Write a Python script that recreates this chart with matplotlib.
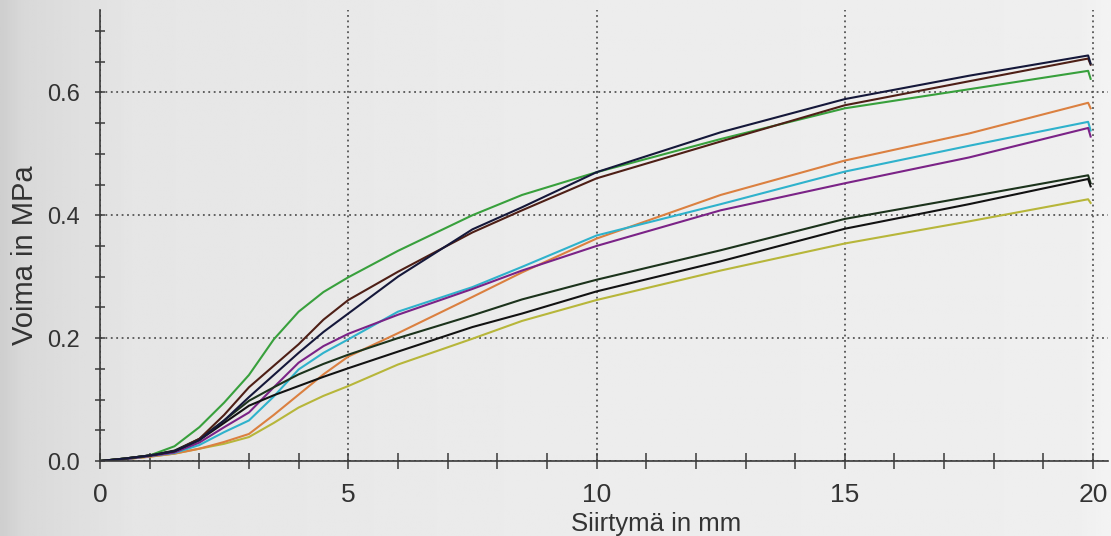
import numpy as np
import matplotlib
matplotlib.use("Agg")
import matplotlib.pyplot as plt
from matplotlib.ticker import MultipleLocator, FixedLocator

# ---- data ----
x_mm = [0, 0.5, 1, 1.5, 2, 2.5, 3, 3.5, 4, 4.5, 5, 6, 7.5, 8.5, 10, 12.5, 15, 17.5, 19.9]

green   = [0, 0.004, 0.009, 0.024, 0.055, 0.095, 0.140, 0.198, 0.243, 0.275, 0.299, 0.342, 0.400, 0.433, 0.470, 0.524, 0.574, 0.605, 0.635]
brown   = [0, 0.004, 0.009, 0.016, 0.036, 0.075, 0.120, 0.155, 0.190, 0.230, 0.262, 0.308, 0.372, 0.408, 0.460, 0.520, 0.579, 0.618, 0.655]
navy    = [0, 0.004, 0.009, 0.016, 0.034, 0.066, 0.104, 0.140, 0.176, 0.210, 0.240, 0.300, 0.377, 0.413, 0.470, 0.535, 0.589, 0.627, 0.660]
orange  = [0, 0.003, 0.007, 0.012, 0.020, 0.031, 0.044, 0.075, 0.108, 0.141, 0.170, 0.208, 0.267, 0.307, 0.362, 0.433, 0.489, 0.533, 0.583]
cyan    = [0, 0.003, 0.008, 0.013, 0.026, 0.047, 0.066, 0.105, 0.149, 0.176, 0.198, 0.243, 0.283, 0.316, 0.367, 0.418, 0.471, 0.513, 0.552]
purple  = [0, 0.003, 0.008, 0.014, 0.030, 0.055, 0.079, 0.120, 0.160, 0.187, 0.207, 0.238, 0.280, 0.310, 0.350, 0.408, 0.452, 0.494, 0.542]
dkgreen = [0, 0.004, 0.009, 0.017, 0.036, 0.066, 0.098, 0.120, 0.141, 0.158, 0.173, 0.200, 0.237, 0.263, 0.295, 0.343, 0.394, 0.430, 0.465]
black   = [0, 0.004, 0.009, 0.016, 0.034, 0.062, 0.090, 0.107, 0.122, 0.137, 0.151, 0.178, 0.218, 0.240, 0.276, 0.325, 0.378, 0.418, 0.459]
yellow  = [0, 0.003, 0.007, 0.012, 0.020, 0.028, 0.039, 0.062, 0.087, 0.106, 0.122, 0.157, 0.199, 0.228, 0.262, 0.310, 0.354, 0.390, 0.426]

# final unloading point at the end of each test
x_end = 19.95
end_values = {
    "yellow": 0.420, "orange": 0.574, "cyan": 0.538, "purple": 0.528,
    "dkgreen": 0.452, "black": 0.447, "green": 0.622, "brown": 0.645, "navy": 0.647,
}

series = [
    ("yellow", yellow, "#b7b63a"),
    ("orange", orange, "#db8040"),
    ("cyan", cyan, "#2fb2cc"),
    ("purple", purple, "#7b2387"),
    ("dkgreen", dkgreen, "#1c331c"),
    ("black", black, "#121212"),
    ("green", green, "#38a03c"),
    ("brown", brown, "#4e1f16"),
    ("navy", navy, "#15183a"),
]

x_major = [0, 5, 10, 15, 20]
y_major = [0.0, 0.2, 0.4, 0.6]
y_labels = ["0.0", "0.2", "0.4", "0.6"]

# ---- figure ----
W, H = 1111, 536
fig = plt.figure(figsize=(W / 100, H / 100), dpi=100)
plt.rcParams["font.family"] = ["Liberation Sans", "DejaVu Sans"]

# photographic light-grey background with darker left edge
bg = fig.add_axes([0, 0, 1, 1], zorder=-10)
grad = np.interp(np.linspace(0, 1, 400), [0, 0.02, 0.12, 0.5, 0.97, 1.0],
                 [0.81, 0.85, 0.90, 0.925, 0.935, 0.955])
bg.imshow(np.tile(grad, (10, 1)), cmap="gray", vmin=0, vmax=1, aspect="auto",
          extent=[0, 1, 0, 1])
bg.axis("off")

left_px, right_px, top_px, bot_px = 100, 1108, 10, 461
ax = fig.add_axes([left_px / W, 1 - bot_px / H, (right_px - left_px) / W, (bot_px - top_px) / H])
ax.patch.set_alpha(0)

for name, vals, col in series:
    xs = list(x_mm) + [x_end]
    ys = list(vals) + [end_values[name]]
    ax.plot(xs, ys, color=col, lw=1.5, solid_joinstyle="round")

ax.set_xlim(0, 20.3)
ax.set_ylim(0, 0.734)

for s in ["top", "right"]:
    ax.spines[s].set_visible(False)
for s in ["left", "bottom"]:
    ax.spines[s].set_color("#3a3a3a")
    ax.spines[s].set_linewidth(1.2)

ax.xaxis.set_major_locator(FixedLocator(x_major))
ax.xaxis.set_minor_locator(MultipleLocator(1))
ax.yaxis.set_major_locator(FixedLocator(y_major))
ax.yaxis.set_minor_locator(MultipleLocator(0.05))
ax.set_yticklabels(y_labels)

ax.tick_params(axis="x", which="both", direction="inout", length=12, width=1.1,
               color="#3a3a3a", labelsize=19, labelcolor="#333333", pad=10)
ax.tick_params(axis="y", which="both", direction="inout", length=7, width=1.1,
               color="#3a3a3a", labelsize=17, labelcolor="#333333", pad=11)

ax.grid(True, which="major", color="#555555", lw=1.3, linestyle=(0, (1, 2)))
ax.set_axisbelow(True)

ax.set_xlabel("Siirtymä in mm", fontsize=18.5, color="#333333")
ax.xaxis.set_label_coords(0.552, -0.112)
ax.set_ylabel("Voima in MPa", fontsize=21, color="#333333")
ax.yaxis.set_label_coords(-0.061, 0.456)

fig.savefig("out.png", dpi=100)
